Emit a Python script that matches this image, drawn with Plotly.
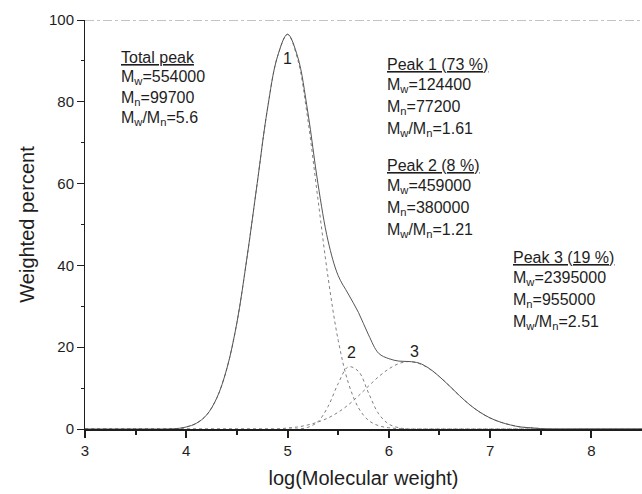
import plotly.graph_objects as go

# x grid (log molecular weight)
x_vals = [3.0, 3.5, 3.9, 4.0, 4.1, 4.2, 4.3, 4.4, 4.5, 4.6, 4.7, 4.8, 4.9, 5.0,
          5.1, 5.2, 5.3, 5.4, 5.5, 5.6, 5.7, 5.8, 5.9, 6.0, 6.1, 6.2, 6.3, 6.4,
          6.5, 6.6, 6.7, 6.8, 6.9, 7.0, 7.1, 7.2, 7.3, 7.4, 7.5, 7.6, 8.0, 8.5]

total_vals = [0, 0, 0.1, 0.5, 1.4, 3.4, 7.5, 14.7, 26, 42, 60, 78, 91, 96.5,
              91, 77.5, 60, 46, 37.5, 33, 28.5, 23, 18.5, 17.2, 16.6, 16.5, 16.1, 14.8,
              12.8, 10.5, 8.1, 5.9, 4.1, 2.7, 1.7, 1.0, 0.5, 0.3, 0.1, 0, 0, 0]

peak1_vals = [0, 0, 0.1, 0.5, 1.4, 3.4, 7.5, 14.7, 26, 42, 60, 78, 91, 96.5,
              90.4, 75.7, 56.2, 37.1, 21.7, 11.3, 5.2, 2.1, 0.8, 0.3, 0.1, 0, 0, 0,
              0, 0, 0, 0, 0, 0, 0, 0, 0, 0, 0, 0, 0, 0]

peak2_vals = [0, 0, 0, 0, 0, 0, 0, 0, 0, 0, 0, 0, 0, 0,
              0, 0.4, 1.8, 5.5, 11.1, 15.2, 14.1, 8.8, 3.7, 1.2, 0.3, 0, 0, 0,
              0, 0, 0, 0, 0, 0, 0, 0, 0, 0, 0, 0, 0, 0]

peak3_vals = [0, 0, 0, 0, 0, 0, 0, 0, 0, 0, 0, 0, 0, 0.25,
              0.5, 1.0, 1.7, 2.7, 4.1, 5.9, 8.1, 10.5, 12.8, 14.7, 16.0, 16.5, 16.0, 14.7,
              12.8, 10.5, 8.1, 5.9, 4.1, 2.7, 1.7, 1.0, 0.5, 0.3, 0.1, 0, 0, 0]

x_ticks = [3, 4, 5, 6, 7, 8]
y_ticks = [0, 20, 40, 60, 80, 100]

FONT = "Liberation Sans, Arial, sans-serif"
INK = "#1e1e1e"

fig = go.Figure()
dot_style = dict(color="#808080", width=1, dash="dot")
for vals in (peak1_vals, peak2_vals, peak3_vals):
    fig.add_trace(go.Scatter(x=x_vals, y=vals, mode="lines", line=dict(shape="spline", **dot_style),
                             showlegend=False, hoverinfo="skip"))
fig.add_trace(go.Scatter(x=x_vals, y=total_vals, mode="lines",
                         line=dict(color="#555555", width=1, shape="spline"),
                         showlegend=False, hoverinfo="skip"))

# top frame line (dash-dot, scanned look)
fig.add_shape(type="line", xref="x", yref="y", x0=3, x1=8.5, y0=100, y1=100,
              line=dict(color="#888888", width=1, dash="dashdot"))

def txt(x, y, s, size=16):
    fig.add_annotation(x=x, y=y, xref="x", yref="y", text=s, showarrow=False,
                       xanchor="left", yanchor="middle",
                       font=dict(family=FONT, size=size, color=INK))

blocks = [
    (3.34, [90.8, 86.0, 80.9, 76.0],
     ["<u>Total peak</u>", "M<sub>w</sub>=554000", "M<sub>n</sub>=99700", "M<sub>w</sub>/M<sub>n</sub>=5.6"]),
    (5.96, [89.2, 84.0, 78.6, 73.2],
     ["<u>Peak 1 (73 %)</u>", "M<sub>w</sub>=124400", "M<sub>n</sub>=77200", "M<sub>w</sub>/M<sub>n</sub>=1.61"]),
    (5.96, [64.5, 59.3, 53.9, 48.5],
     ["<u>Peak 2 (8 %)</u>", "M<sub>w</sub>=459000", "M<sub>n</sub>=380000", "M<sub>w</sub>/M<sub>n</sub>=1.21"]),
    (7.21, [41.9, 36.8, 31.3, 26.0],
     ["<u>Peak 3 (19 %)</u>", "M<sub>w</sub>=2395000", "M<sub>n</sub>=955000", "M<sub>w</sub>/M<sub>n</sub>=2.51"]),
]
for bx, ys, lines in blocks:
    for yy, s in zip(ys, lines):
        txt(bx, yy, s)

for lx, ly, s in [(5.0, 90.5, "1"), (5.63, 18.6, "2"), (6.25, 19.0, "3")]:
    fig.add_annotation(x=lx, y=ly, xref="x", yref="y", text=s, showarrow=False,
                       xanchor="center", yanchor="middle",
                       font=dict(family=FONT, size=16, color=INK))

fig.update_xaxes(range=[3, 8.5], tickvals=x_ticks, ticktext=[str(v) for v in x_ticks],
                 ticks="outside", ticklen=7, tickwidth=1.5, tickcolor=INK,
                 minor=dict(tickvals=[3.5, 4.5, 5.5, 6.5, 7.5], ticks="outside", ticklen=4, tickcolor=INK, tickwidth=1.5),
                 showline=True, linecolor=INK, linewidth=2, showgrid=False, zeroline=False,
                 tickfont=dict(family=FONT, size=15, color=INK),
                 title=dict(text="log(Molecular weight)", font=dict(family=FONT, size=20, color=INK), standoff=13))
fig.update_yaxes(range=[0, 100], tickvals=y_ticks, ticktext=[str(v) for v in y_ticks],
                 ticks="outside", ticklen=7, tickwidth=1, tickcolor=INK,
                 minor=dict(tickvals=[10, 30, 50, 70, 90], ticks="outside", ticklen=3, tickcolor=INK),
                 showline=True, linecolor=INK, linewidth=1, showgrid=False, zeroline=False,
                 tickfont=dict(family=FONT, size=15, color=INK),
                 title=dict(text="Weighted percent", font=dict(family=FONT, size=20, color=INK), standoff=8))

fig.update_layout(width=642, height=494, margin=dict(l=85, r=0, t=20, b=65),
                  paper_bgcolor="white", plot_bgcolor="white")

fig.write_html("out.html")
